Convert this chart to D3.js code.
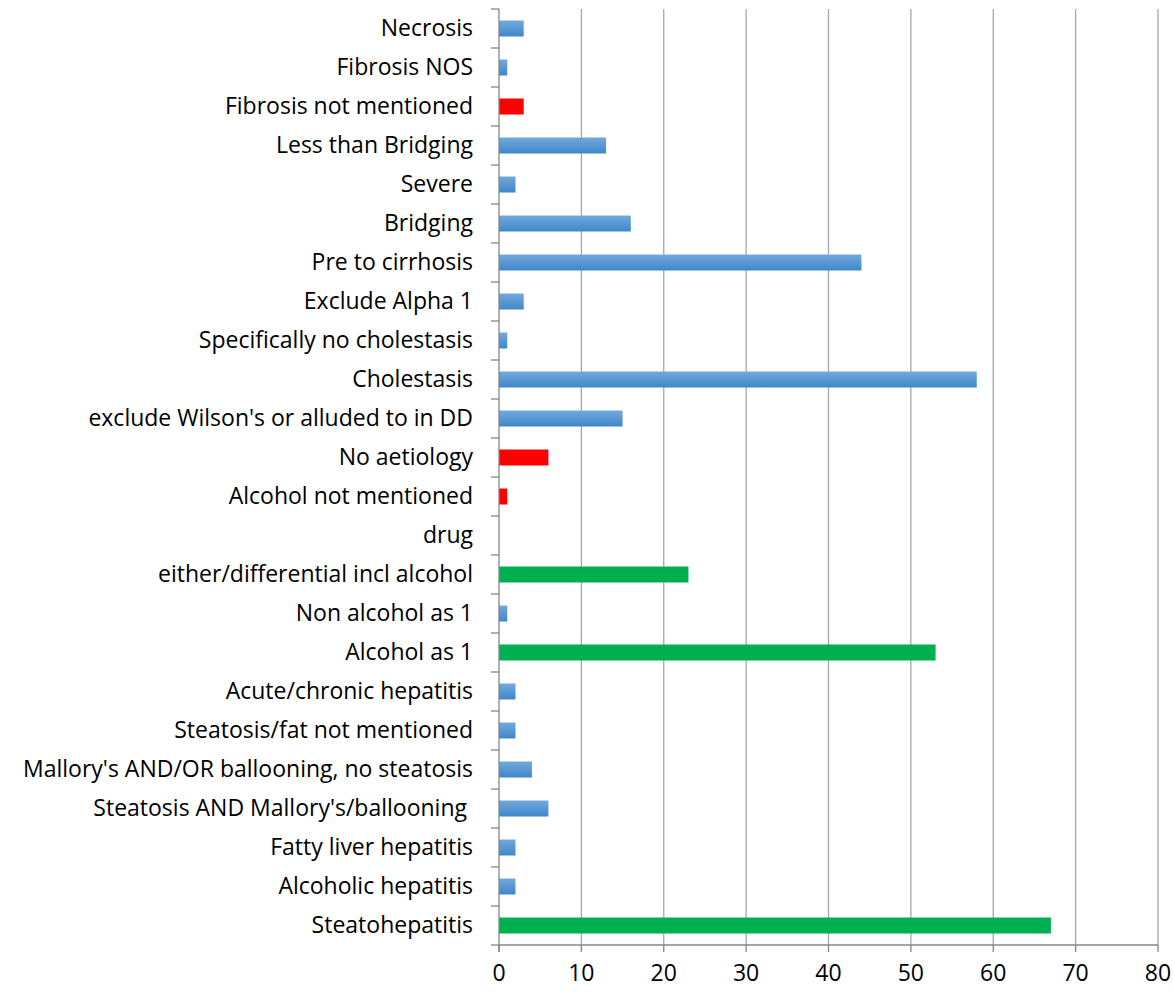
<!DOCTYPE html>
<html>
<head>
<meta charset="utf-8">
<script src="https://cdn.jsdelivr.net/npm/d3@7/dist/d3.min.js"></script>
<style>
body { margin:0; background:#fff; }
text { font-family: "Open Sans", sans-serif; fill:#000; white-space: pre; }
</style>
</head>
<body>
<div id="chart"></div>
<script>
// categories from top to bottom
var categories = [
	"Necrosis", "Fibrosis NOS", "Fibrosis not mentioned", "Less than Bridging", "Severe",
	"Bridging", "Pre to cirrhosis", "Exclude Alpha 1", "Specifically no cholestasis", "Cholestasis",
	"exclude Wilson's or alluded to in DD", "No aetiology", "Alcohol not mentioned", "drug",
	"either/differential incl alcohol", "Non alcohol as 1", "Alcohol as 1", "Acute/chronic hepatitis",
	"Steatosis/fat not mentioned", "Mallory's AND/OR ballooning, no steatosis",
	"Steatosis AND Mallory's/ballooning ", "Fatty liver hepatitis", "Alcoholic hepatitis", "Steatohepatitis"
];
var values = [3, 1, 3, 13, 2, 16, 44, 3, 1, 58, 15, 6, 1, 0, 23, 1, 53, 2, 2, 4, 6, 2, 2, 67];
// b = blue, r = red, g = green
var colourKeys = ["b","b","r","b","b","b","b","b","b","b","b","r","r","b","g","b","g","b","b","b","b","b","b","g"];
var xTicks = [0, 10, 20, 30, 40, 50, 60, 70, 80];

var W = 1174, H = 992;
var m = {left: 499, right: 1158, top: 9, bottom: 945};

var svg = d3.select("#chart").append("svg").attr("width", W).attr("height", H);

var defs = svg.append("defs");
var grad = defs.append("linearGradient").attr("id", "blueGrad")
	.attr("x1", 0).attr("y1", 0).attr("x2", 0).attr("y2", 1);
grad.append("stop").attr("offset", "0%").attr("stop-color", "#72a9de");
grad.append("stop").attr("offset", "100%").attr("stop-color", "#3f87c8");

var x = d3.scaleLinear().domain([0, 80]).range([m.left, m.right]);
var y = d3.scaleBand().domain(categories).range([m.top, m.bottom]).paddingInner(0.59).paddingOuter(0.295);
var yStep = d3.scaleBand().domain(categories).range([m.top, m.bottom]);

var fills = {b: "url(#blueGrad)", r: "#ff0000", g: "#00b050"};

// gridlines
svg.append("g").selectAll("line").data(xTicks.slice(1)).enter().append("line")
	.attr("x1", function(d){return x(d);}).attr("x2", function(d){return x(d);})
	.attr("y1", m.top).attr("y2", m.bottom)
	.attr("stroke", "#a6a6a6").attr("stroke-width", 1.3);

// bars
svg.append("g").selectAll("rect").data(values).enter().append("rect")
	.attr("x", x(0))
	.attr("y", function(d, i){return y(categories[i]);})
	.attr("width", function(d){return x(d) - x(0);})
	.attr("height", y.bandwidth())
	.attr("fill", function(d, i){return fills[colourKeys[i]];});

// y axis
var yAxis = svg.append("g");
yAxis.append("line").attr("x1", m.left).attr("x2", m.left).attr("y1", m.top).attr("y2", m.bottom + 7)
	.attr("stroke", "#868686").attr("stroke-width", 1.3);
var yEdges = categories.map(function(c){return yStep(c);}).concat([m.bottom]);
yAxis.selectAll("line.t").data(yEdges).enter().append("line").attr("class", "t")
	.attr("x1", m.left - 8).attr("x2", m.left).attr("y1", function(d){return d;}).attr("y2", function(d){return d;})
	.attr("stroke", "#868686").attr("stroke-width", 1.3);
yAxis.selectAll("text").data(categories).enter().append("text")
	.attr("x", 473)
	.attr("y", function(d){return yStep(d) + yStep.bandwidth() / 2 - 1;})
	.attr("dy", "0.35em")
	.attr("text-anchor", "end")
	.style("font-size", "23px")
	.text(function(d){return d;});

// x axis
var xAxis = svg.append("g");
xAxis.append("line").attr("x1", m.left).attr("x2", m.right).attr("y1", m.bottom).attr("y2", m.bottom)
	.attr("stroke", "#868686").attr("stroke-width", 1.3);
xAxis.selectAll("line.t").data(xTicks).enter().append("line").attr("class", "t")
	.attr("x1", function(d){return x(d);}).attr("x2", function(d){return x(d);})
	.attr("y1", m.bottom).attr("y2", m.bottom + 7)
	.attr("stroke", "#868686").attr("stroke-width", 1.3);
xAxis.selectAll("text").data(xTicks).enter().append("text")
	.attr("x", function(d){return x(d);})
	.attr("y", 973)
	.attr("dy", "0.35em")
	.attr("text-anchor", "middle")
	.style("font-size", "23px")
	.text(function(d){return d;});
</script>
</body>
</html>
